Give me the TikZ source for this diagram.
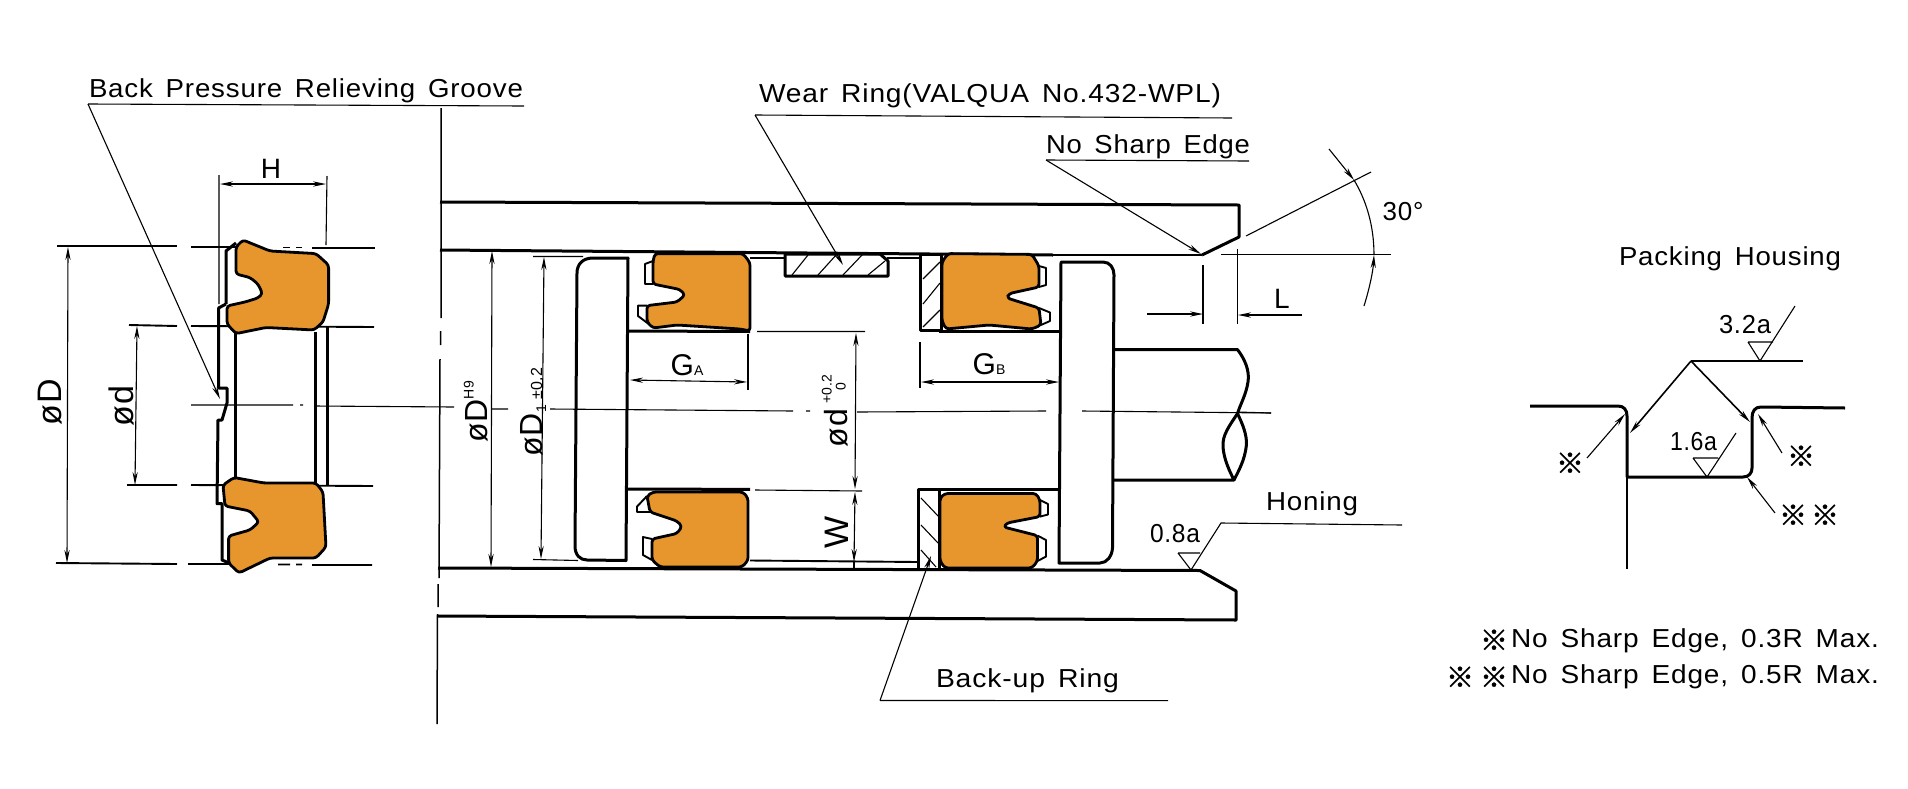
\documentclass[tikz,border=0pt]{standalone}
\usepackage{fontspec}
\usepackage{graphicx}
\setmainfont[LetterSpace=3,WordSpace=1.5]{Liberation Sans}
\newfontfamily\cjk[FakeBold=1.2]{Noto Sans CJK JP}
\usetikzlibrary{arrows.meta}
\definecolor{seal}{RGB}{230,150,45}
\tikzset{
  thk/.style={line width=1.5pt,line join=round},
  med/.style={line width=0.95pt,line join=round},
  thn/.style={line width=0.55pt},
  ar/.style={thn,-{Stealth[length=6.5pt,width=2.6pt]}},
  dim/.style={thn,{Stealth[length=6.5pt,width=2.6pt]}-{Stealth[length=6.5pt,width=2.6pt]}},
  sealf/.style={fill=seal,draw=black,line width=1.4pt,line join=round,rounded corners=1.5pt},
  lab/.style={anchor=base west,inner sep=0pt,outer sep=0pt,font=\fontsize{13}{13}\selectfont},
  rot/.style={inner sep=0pt,outer sep=0pt,rotate=90,font=\fontsize{17}{17}\selectfont},
  big/.style={inner sep=0pt,outer sep=0pt,font=\fontsize{14}{14}\selectfont},
  kome/.style={inner sep=0pt,outer sep=0pt,font=\cjk\fontsize{14}{14}\selectfont}
}
\newcommand{\fitw}[2]{\resizebox{#1pt}{\height}{#2}}
\begin{document}
\begin{tikzpicture}[x=0.5pt,y=-0.5pt]
\useasboundingbox[fill=white] (0,0) rectangle (1908,788);

% ===== texts =====
\node[lab] (tbp) at (89,97) {\fitw{217}{Back Pressure Relieving Groove}};
\node[lab] (twr) at (759,102) {\fitw{231}{Wear Ring(VALQUA No.432-WPL)}};
\node[lab] (tns) at (1046,153) {\fitw{102}{No Sharp Edge}};
\node[lab] (tbu) at (936,687) {\fitw{91.5}{Back-up Ring}};
\node[lab] (tho) at (1266,510) {\fitw{46}{Honing}};
\node[lab] (t08) at (1150,542) {\fitw{25}{0.8a}};
\node[lab] (tph) at (1619,265) {\fitw{111}{Packing Housing}};
\node[lab] (t32) at (1719,333) {\fitw{26}{3.2a}};
\node[lab] (t16) at (1670,450) {\fitw{23.5}{1.6a}};
\node[lab] (tm1) at (1511,647) {\fitw{184}{No Sharp Edge, 0.3R Max.}};
\node[lab] (tm2) at (1511,683) {\fitw{184}{No Sharp Edge, 0.5R Max.}};
\node[kome] (k1) at (1494,640) {※};
\node[kome] (k2) at (1460,677) {※};
\node[kome] (k3) at (1494,677) {※};
\node[kome] (k4) at (1570,463) {※};
\node[kome] (k5) at (1801,456) {※};
\node[kome] (k6) at (1793,515) {※};
\node[kome] (k7) at (1825,515) {※};
\node[big] (tH) at (271,169) {H};
\node[big] (tL) at (1282,299) {L};
\node[inner sep=0pt,font=\fontsize{13}{13}\selectfont] (t30) at (1403,212) {30\textdegree};
\node[inner sep=0pt] (tGA) at (687,365) {\fontsize{15}{15}\selectfont G\fontsize{7}{7}\selectfont A};
\node[inner sep=0pt] (tGB) at (989,364) {\fontsize{15}{15}\selectfont G\fontsize{7}{7}\selectfont B};
\node[rot] (tD) at (50,402) {øD};
\node[rot] (td) at (121,406) {ød};
\node[rot] (tW) at (837,532) {W};
\node[rot,font=\fontsize{16}{16}\selectfont] (tDH) at (476,412) {øD\raisebox{7pt}{\fontsize{7}{7}\selectfont H9}};
\node[rot,font=\fontsize{16}{16}\selectfont] (tD1) at (533,412) {øD\raisebox{-2pt}{\fontsize{7}{7}\selectfont 1}\,\fontsize{8}{8}\selectfont ±0.2};
\node[rot,font=\fontsize{16}{16}\selectfont] (tdd) at (835,411) {ød\,\raisebox{1pt}{\fontsize{7}{7}\selectfont\shortstack[l]{+0.2\\[-1pt]\ \ 0}}};

% ===== centre and vertical datum =====
\draw[thn] (191,405) -- (293,405) (300,405) -- (303,405) (314,406) -- (454,407);
\draw[thn] (492,409) -- (508,409) (550,409) -- (793,411) (806,411) -- (810,411) (857,412) -- (1046,411) (1082,411) -- (1271,413);
\draw[line width=0.75pt] (441,108) -- (441,318) (440.5,331) -- (440.5,345) (440,359) -- (439,578) (438,584) -- (438,607) (437.5,614) -- (437,724);

% ===== left-hand packing : extension lines =====
\draw[med] (57,246) -- (177,246) (191,247) -- (240,247) (283,247.5) -- (290,247.5) (296,247.5) -- (302,247.5) (312,248) -- (375,248);
\draw[med] (129,325) -- (177,326) (191,326) -- (374,327);
\draw[med] (127,485) -- (177,485) (191,485) -- (373,486);
\draw[med] (56,563) -- (177,564) (188,564) -- (250,564) (278,564.5) -- (290,564.5) (296,564.5) -- (302,564.5) (312,565) -- (372,565);
\draw[thn] (219,175) -- (219,304) (327,176) -- (326,245);
\draw[dim] (220,184) -- (326,184);
\draw[dim] (68,247) -- (67,563);
\draw[dim] (137,326) -- (135,485);

% left body line with relief groove
\draw[thk] (226,304) -- (226,251) -- (236,243);
\draw[thk] (226,304) -- (218.6,308) -- (218.6,388) -- (227,388) -- (227,403) -- (222,420) -- (218,420) -- (217,503.6) -- (222,503.6) -- (222,560) -- (229,563);
\draw[thk] (235,333) -- (235,477) (315,332) -- (315,483) (327,326) -- (327,486);

% top seal
\draw[sealf] (236,247) -- (243,240) -- (270,251) -- (316,253.6) -- (328.6,265) -- (328.6,304) -- (323,322) -- (314,330) -- (266,327.5) -- (236,333.6) -- (227,324) -- (227,306) -- (245,302) -- (258,298) -- (262.5,293.6) -- (258,284) -- (250,277.5) -- (236,274) -- cycle;
% bottom seal
\draw[sealf] (223,485) -- (234,477.5) -- (264,483) -- (316,483) -- (323,492) -- (326,547) -- (316,558) -- (270,558) -- (239,573) -- (228.6,563) -- (228.6,536) -- (250,530) -- (259,522) -- (250,511) -- (225,506) -- cycle;

% ===== cylinder =====
\draw[thk] (440,202) -- (1239,205) -- (1239,237) -- (1202,255);
\draw[thk] (440,250) -- (1053,255);
\draw[thn] (1053,255) -- (1202,255);
\draw[thn] (1221,254.5) -- (1391,254.5);
\draw[thk] (438,568) -- (1200,570.5) -- (1236,591) -- (1236,620) -- (438,616);

% dims in cylinder
\draw[dim] (492,251) -- (491,567);
\draw[dim] (544,257) -- (541,559);
\draw[thn] (533,256.5) -- (583,256.5) (533,559.5) -- (578,560.5);

% piston head left and lands
\draw[thk] (628,258) -- (593,258) .. controls (582,258) and (577,265) .. (577,273) -- (575,546) .. controls (575,555) and (580,560) .. (587,560) -- (626,560.5) -- cycle;
\draw[thk] (628,331) -- (750,331.5) (627,489) -- (750,489.4);
\draw[thn] (757,331.5) -- (865,331.5) (755,490) -- (862,491);
\draw[med] (750,258) -- (785,258) (887,258) -- (920,258) (750,560.5) -- (918,562);

% wear ring
\draw[thk] (785,254) -- (880,254) -- (888,261) -- (888,276) -- (785,276) -- cycle;
\draw[thn] (792,275) -- (808,255) (818,275) -- (837,254) (843,275) -- (863,254) (868,275) -- (885,261);

% back-up rings
\draw[thk] (920,254) -- (941,254) -- (941,330) -- (920,330) -- cycle;
\draw[thn] (923,279) -- (940,262) (923,304) -- (940,283) (923,327) -- (940,310);
\draw[thk] (918,489) -- (939,489) -- (939,569) -- (918,569) -- cycle;
\draw[thn] (921,498) -- (939,517) (921,525) -- (939,544) (921,550) -- (936,567);

% seal A top
\draw[med] (653,261) -- (645,264) -- (645,284) -- (653,284);
\draw[med] (647,305.6) -- (638,305.6) -- (638,316) -- (652,326.4);
\draw[sealf] (655,253.6) -- (743,253.6) -- (750,262.6) -- (750,331) -- (740,329) -- (677,325) -- (653,328) -- (647,322) -- (647,305.6) -- (677,302) -- (685,295) -- (680,289.5) -- (653,284) -- (653,261) -- cycle;
% seal A bottom
\draw[med] (647,496) -- (637,506.6) -- (637,512) -- (650,512);
\draw[med] (652,539) -- (643,537) -- (643,555) -- (652,560);
\draw[sealf] (647,496) -- (653,492) -- (743,492) -- (748,498) -- (748,560.5) -- (742,567) -- (660,567) -- (652,560) -- (652,539) -- (677,533.5) -- (682,526.4) -- (677,521) -- (650,512) -- cycle;
% seal B top
\draw[med] (1039,266) -- (1046,268) -- (1046,285) -- (1039,287);
\draw[med] (1039,308) -- (1050,312.5) -- (1050,321) -- (1041,325);
\draw[sealf] (948,253.6) -- (1032,254.4) -- (1039,266) -- (1039,287) -- (1009,293.6) -- (1007,298) -- (1039,308) -- (1041,325) -- (1032,329) -- (989,325) -- (946,329) -- (942,321) -- (942,262) -- cycle;
% seal B bottom
\draw[med] (1040,500) -- (1048,504) -- (1048,514.5) -- (1040,516.6);
\draw[med] (1037.5,535.6) -- (1046,540) -- (1046,556.6) -- (1037.5,561);
\draw[sealf] (945,493.5) -- (1036,493.5) -- (1040,500) -- (1040,516.6) -- (1007,523) -- (1003.6,527) -- (1037.5,535.6) -- (1037.5,561) -- (1032,568) -- (945,568) -- (940,561) -- (940,498) -- cycle;

\draw[thk] (939,331.5) -- (1061,331.5) (918,489) -- (1059,489);

% piston head right
\draw[thk] (1061,262) -- (1103,262) .. controls (1110,262) and (1114,268) .. (1114,275) -- (1112.5,548) .. controls (1112,556) and (1107,563) .. (1100,563) -- (1059,563) -- cycle;

% rod
\draw[thk] (1114,349.6) -- (1237.5,349.6) .. controls (1244,358) and (1250,370) .. (1248,382) .. controls (1246,395) and (1240,405) .. (1237.5,413.5) .. controls (1230,425) and (1222,435) .. (1223,447) .. controls (1224,460) and (1230,472) .. (1234,480) -- (1114,480);
\draw[thk] (1237.5,413.5) .. controls (1243,425) and (1247,435) .. (1246.4,445) .. controls (1245,460) and (1238,472) .. (1234,480);
\draw[thn] (1237,412) -- (1271,413);

% dims GA GB d W L
\draw[thn] (748,334) -- (748,390) (920,342) -- (920,388);
\draw[dim] (630,380) -- (747,382);
\draw[dim] (921,382) -- (1059,382);
\draw[dim] (856,333) -- (855,489);
\draw[dim] (855,492) -- (854,562);
\draw[thn] (854,562) -- (854,568);
\draw[thn] (1203,265) -- (1203,324) (1237.5,249) -- (1237.5,324);
\coordinate (la) at (1147,314); \coordinate (lb) at (1203,314);
\coordinate (lc) at (1302,315); \coordinate (ld) at (1238,315);
\draw[ar] (la) -- (lb);
\draw[ar] (lc) -- (ld);

% angle 30
\draw[thn] (1246,236) -- (1371,172);
\coordinate (aa) at (1329,149); \coordinate (ab) at (1354,180);
\coordinate (ac) at (1364,306); \coordinate (ad) at (1374,255);
\draw[ar] (aa) -- (ab);
\draw[ar] (ac) .. controls (1369,290) and (1373,272) .. (ad);
\draw[thn] (ab) .. controls (1366,200) and (1374,225) .. (ad);

% leaders
\coordinate (bp1) at (524,106); \coordinate (bp2) at (88,104); \coordinate (bp3) at (220,399);
\draw[thn] (bp1) -- (bp2); \draw[ar] (bp2) -- (bp3);
\coordinate (wr1) at (1232,118); \coordinate (wr2) at (755,115); \coordinate (wr3) at (843,265);
\draw[thn] (wr1) -- (wr2); \draw[ar] (wr2) -- (wr3);
\coordinate (ns1) at (1249,161); \coordinate (ns2) at (1046,160); \coordinate (ns3) at (1201,254);
\draw[thn] (ns1) -- (ns2); \draw[ar] (ns2) -- (ns3);
\coordinate (bu1) at (1168,700.6); \coordinate (bu2) at (880,700.5); \coordinate (bu3) at (931,556);
\draw[thn] (bu1) -- (bu2); \draw[ar] (bu2) -- (bu3);
% honing symbol
\draw[thn] (1402,525) -- (1221,523) -- (1191,570);
\draw[thn] (1178,553) -- (1200,553) (1178,553) -- (1191,570);

% ===== packing housing =====
\draw[thk] (1530,406) -- (1618,406) .. controls (1624,406) and (1627,410) .. (1627,416) -- (1627,477) -- (1743,477) .. controls (1749,477) and (1752,473) .. (1752,468) -- (1752,418) .. controls (1752,411) and (1755,407) .. (1761,407) -- (1845,408);
\draw[med] (1627,477) -- (1627,569);
\coordinate (ph) at (1691,361); \coordinate (pl) at (1630,433); \coordinate (pr) at (1750,422);
\draw[ar,line width=0.8pt] (ph) -- (pl);
\draw[ar,line width=0.8pt] (ph) -- (pr);
\draw[thn] (ph) -- (1803,361);
\draw[thn] (1748,342) -- (1773,342) (1748,342) -- (1760,361) -- (1795,306);
\draw[thn] (1693,458) -- (1718,458) (1693,458) -- (1707,477) -- (1736,433);
\coordinate (s1a) at (1587,458); \coordinate (s1b) at (1625,414);
\coordinate (s2a) at (1782,453); \coordinate (s2b) at (1758,414);
\coordinate (s3a) at (1775,513); \coordinate (s3b) at (1747,477);
\draw[ar] (s1a) -- (s1b);
\draw[ar] (s2a) -- (s2b);
\draw[ar] (s3a) -- (s3b);
\end{tikzpicture}
\end{document}
